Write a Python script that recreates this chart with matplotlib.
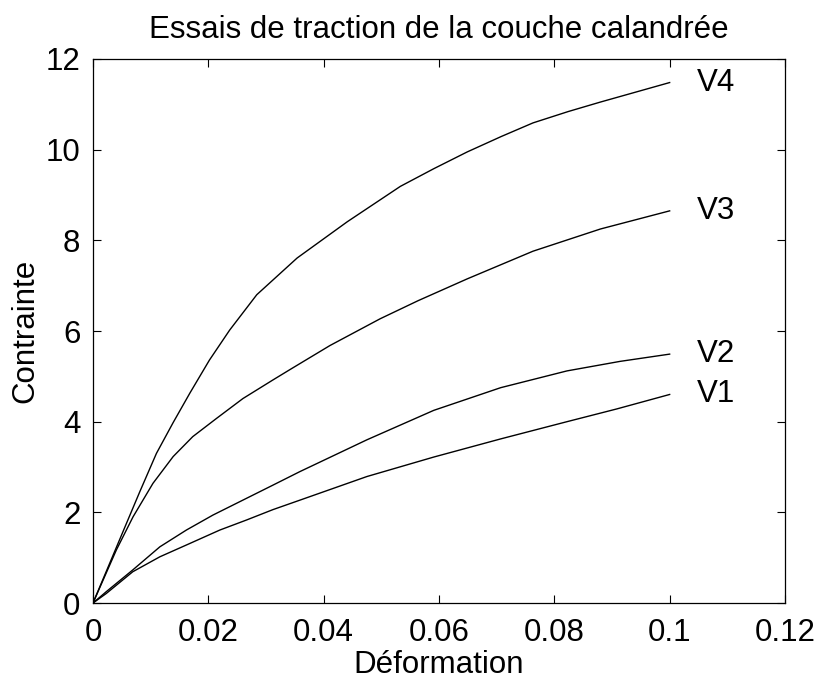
import numpy as np
import matplotlib
matplotlib.use("Agg")
import matplotlib.pyplot as plt

plt.rcParams['font.family'] = ['Liberation Sans', 'DejaVu Sans']

# strain / stress values
eps_v4 = [0, 0.00347, 0.00578, 0.0081, 0.011, 0.0139, 0.0168, 0.0202, 0.0237, 0.0284,
          0.0354, 0.0441, 0.0533, 0.0591, 0.0649, 0.0708, 0.0763, 0.0824, 0.088, 0.1]
sig_v4 = [0, 1.05, 1.75, 2.45, 3.30, 3.98, 4.63, 5.36, 6.02, 6.80,
          7.61, 8.41, 9.19, 9.58, 9.95, 10.29, 10.59, 10.84, 11.05, 11.48]

eps_v3 = [0, 0.00405, 0.00694, 0.0104, 0.0139, 0.0173, 0.0214, 0.026, 0.0312, 0.0343,
          0.0411, 0.0498, 0.0564, 0.0649, 0.0763, 0.088, 0.1]
sig_v3 = [0, 1.17, 1.90, 2.64, 3.23, 3.67, 4.07, 4.51, 4.92, 5.16,
          5.68, 6.27, 6.67, 7.15, 7.76, 8.25, 8.65]

eps_v2 = [0, 0.0023, 0.0069, 0.0116, 0.0162, 0.0208, 0.026, 0.0312, 0.0359,
          0.0475, 0.0591, 0.0707, 0.0822, 0.0914, 0.1]
sig_v2 = [0, 0.25, 0.73, 1.24, 1.61, 1.94, 2.27, 2.60, 2.90,
          3.60, 4.25, 4.75, 5.12, 5.33, 5.49]

eps_v1 = [0, 0.0023, 0.0069, 0.0116, 0.0162, 0.022, 0.0266, 0.0312, 0.0359,
          0.0475, 0.0591, 0.0707, 0.0822, 0.0908, 0.1]
sig_v1 = [0, 0.21, 0.69, 1.02, 1.28, 1.61, 1.83, 2.06, 2.27,
          2.79, 3.22, 3.62, 4.00, 4.28, 4.60]

courbes = [('V1', eps_v1, sig_v1), ('V2', eps_v2, sig_v2),
           ('V3', eps_v3, sig_v3), ('V4', eps_v4, sig_v4)]

fs = 22.5

fig = plt.figure(figsize=(8.2, 6.81), dpi=100)
ax = fig.add_axes([0.1134, 0.1145, 0.8439, 0.7989])

for nom, x, y in courbes:
    ax.plot(x, y, color='black', linewidth=1.0)
    ax.text(x[-1] + 0.0048, y[-1], nom, fontsize=fs, ha='left', va='center')

ax.set_xlim(0, 0.12)
ax.set_ylim(0, 12)
ax.set_xticks(np.arange(0, 0.121, 0.02))
ax.set_xticklabels(['0', '0.02', '0.04', '0.06', '0.08', '0.1', '0.12'])
ax.set_yticks(np.arange(0, 13, 2))
ax.tick_params(direction='in', top=True, right=True, length=6, width=0.8,
               labelsize=fs, pad=9)
ax.tick_params(axis='x', pad=10.5)
for s in ax.spines.values():
    s.set_linewidth(0.9)

ax.set_xlabel('Déformation', fontsize=fs, labelpad=2)
ax.set_ylabel('Contrainte', fontsize=fs, labelpad=4)
ax.set_title('Essais de traction de la couche calandrée', fontsize=fs, pad=15)

fig.savefig('out.png', dpi=100)
